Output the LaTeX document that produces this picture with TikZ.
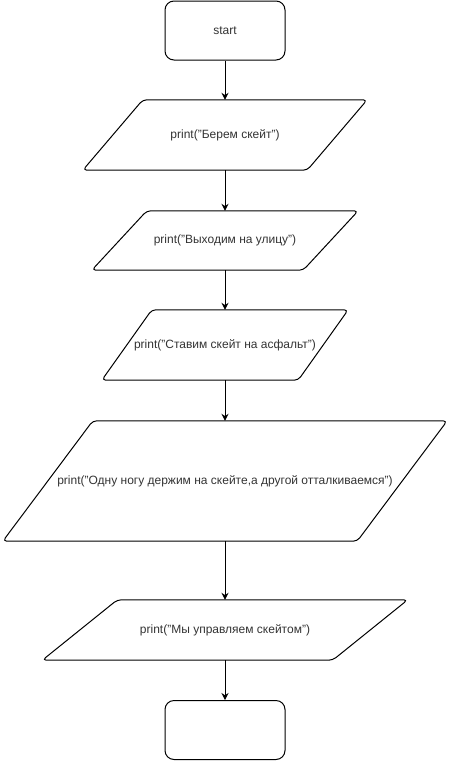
\documentclass[tikz,border=0pt]{standalone}
\usepackage{fontspec}
\setmainfont{Liberation Sans}
\usetikzlibrary{arrows.meta}
% outline of an input/output block around the bounding node #1, slanted by #2
\newcommand{\pgramshape}[2]{%
  \draw[pg] (#1.south west) -- ([xshift=#2]#1.north west) -- (#1.north east)
    -- ([xshift=-#2]#1.south east) -- cycle;}
\begin{document}
\begin{tikzpicture}[x=1pt,y=-1pt,
  lbl/.style={text=black!80, font=\fontsize{12}{14}\selectfont},
  termbox/.style={lbl, draw=black, line width=1pt, rounded corners=9pt,
    minimum width=120pt, minimum height=59pt, inner sep=0pt},
  iobox/.style={lbl, inner sep=0pt},
  pg/.style={draw=black, line width=1pt, rounded corners=4pt, line join=round},
  flow/.style={draw=black, line width=1pt, -{Stealth[length=7pt,width=7pt]}}]
\useasboundingbox (0,0) rectangle (451,761);

\node[termbox] (start) at (225,30.5) {start};

\node[iobox, minimum width=284pt, minimum height=70pt] (p1) at (225,135)
  {print("Берем скейт")};
\pgramshape{p1}{60pt}

\node[iobox, minimum width=266pt, minimum height=59pt] (p2) at (225,240.5)
  {print("Выходим на улицу")};
\pgramshape{p2}{55pt}

\node[iobox, minimum width=246pt, minimum height=70pt] (p3) at (225,345)
  {print("Ставим скейт на асфальт")};
\pgramshape{p3}{50pt}

\node[iobox, minimum width=444pt, minimum height=120pt] (p4) at (225,481)
  {print("Одну ногу держим на скейте,а другой отталкиваемся")};
\pgramshape{p4}{90pt}

\node[iobox, minimum width=365pt, minimum height=60pt] (p5) at (225,630)
  {print("Мы управляем скейтом")};
\pgramshape{p5}{75pt}

\node[termbox] (finish) at (225,730) {};

\draw[flow] (start) -- (p1);
\draw[flow] (p1) -- (p2);
\draw[flow] (p2) -- (p3);
\draw[flow] (p3) -- (p4);
\draw[flow] (p4) -- (p5);
\draw[flow] (p5) -- (finish);
\end{tikzpicture}
\end{document}
